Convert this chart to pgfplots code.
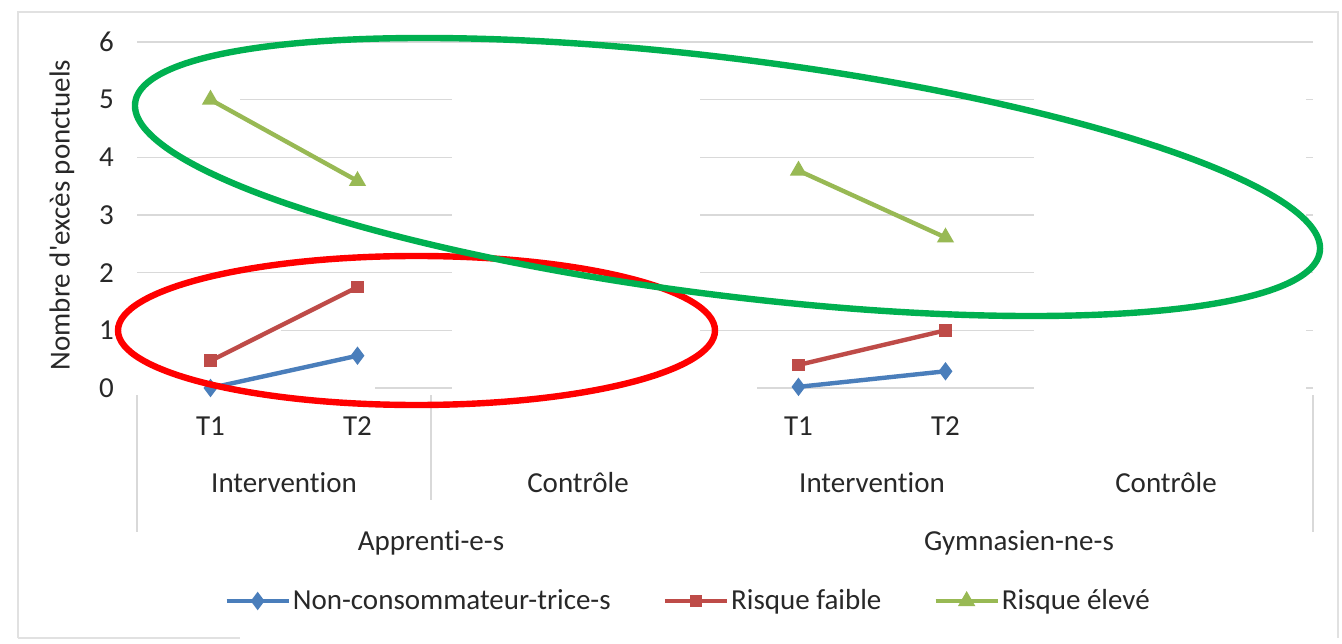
\documentclass[border=0pt]{standalone}
\usepackage{pgfplots}
\pgfplotsset{compat=1.18}
\usepackage{fontspec}
\setmainfont{Carlito}[Ligatures={NoCommon}]
\definecolor{serA}{HTML}{4A7EBB}
\definecolor{serB}{HTML}{BE4B48}
\definecolor{serC}{HTML}{98B954}
\definecolor{gridc}{RGB}{217,217,217}
\definecolor{framec}{RGB}{225,225,225}
\definecolor{txt}{RGB}{40,40,40}
\definecolor{ellG}{RGB}{0,176,80}
\definecolor{ellR}{RGB}{255,0,0}
\newcommand\fs{\fontsize{14.5}{17}\selectfont}
\begin{document}
\begin{tikzpicture}
\path[use as bounding box, fill=white] (0,0) rectangle (671pt,321.5pt);
% chart frame
\draw[framec, line width=0.8pt] (9pt,2.5pt) -- (9pt,315.5pt) -- (669pt,315.5pt) -- (669pt,2.5pt);
\draw[framec, line width=0.8pt] (9pt,2.5pt) -- (120pt,2.5pt);
\begin{axis}[
  at={(68.5pt,127.5pt)}, anchor=south west,
  scale only axis, width=588pt, height=173pt,
  xmin=0.5, xmax=8.5, ymin=0, ymax=6,
  ytick={0,1,...,6},
  xtick={1,2,5,6}, xticklabels={T1,T2,T1,T2},
  ymajorgrids, grid style={gridc, line width=0.8pt},
  axis line style={draw=none},
  major tick length=0pt,
  tick label style={font=\fs, text=txt},
  /pgf/number format/assume math mode=true,
  xticklabel style={anchor=base, yshift=-23.5pt},
  yticklabel style={anchor=east, xshift=-8pt},
  ylabel={Nombre d\textquotesingle excès ponctuels},
  ylabel style={at={(axis description cs:-0.0638,0.5)}, anchor=center, font=\fs, text=txt},
  clip=false,
  unbounded coords=jump,
  legend columns=3,
  legend style={draw=none, fill=none, at={(axis description cs:0.4686,-0.6156)}, anchor=center,
    font=\fs, text=txt, /tikz/every even column/.append style={column sep=25pt},
    nodes={inner sep=1pt}},
  legend image code/.code={\draw[mark repeat=2, mark phase=2] plot coordinates {(0pt,0pt) (15.5pt,0pt) (31pt,0pt)};},
]
% erased regions of the picture
\fill[white] (axis cs:2.64,-0.25) rectangle (axis cs:4.33,5.85);
\fill[white] (axis cs:6.6,-0.25) rectangle (axis cs:8.45,5.85);
\fill[white] (axis cs:0.45,-0.08) rectangle (axis cs:2.12,0.08);
\fill[white] (axis cs:0.45,0.92) rectangle (axis cs:1.48,1.08);
\fill[white] (axis cs:0.45,4.92) rectangle (axis cs:1.2,5.08);
\fill[white] (axis cs:4.2,-0.08) rectangle (axis cs:4.72,0.08);

\addplot[serA, line width=2.2pt, mark=diamond*, mark size=2.8pt, mark options={solid}]
  coordinates {(1,0.0) (2,0.56) (3,nan) (5,0.02) (6,0.29)};
\addlegendentry{Non-consommateur-trice-s}
\addplot[serB, line width=2.2pt, mark=square*, mark size=2.1pt, mark options={solid}]
  coordinates {(1,0.47) (2,1.75) (3,nan) (5,0.40) (6,1.00)};
\addlegendentry{Risque faible}
\addplot[serC, line width=2.2pt, mark=triangle*, mark size=2.8pt, mark options={solid}]
  coordinates {(1,5.00) (2,3.59) (3,nan) (5,3.77) (6,2.61)};
\addlegendentry{Risque élevé}

% category separators
\draw[gridc, line width=0.8pt] ([yshift=-3.5pt]axis cs:0.5,0) -- ([yshift=-72pt]axis cs:0.5,0);
\draw[gridc, line width=0.8pt] ([yshift=-3.5pt]axis cs:2.5,0) -- ([yshift=-56pt]axis cs:2.5,0);
\draw[gridc, line width=0.8pt] ([yshift=-3.5pt]axis cs:8.5,0) -- ([yshift=-72pt]axis cs:8.5,0);
% category labels
\node[anchor=base, font=\fs, text=txt] at (axis cs:1.5,0) [yshift=-52pt] {Intervention};
\node[anchor=base, font=\fs, text=txt] at (axis cs:3.5,0) [yshift=-52pt] {Contrôle};
\node[anchor=base, font=\fs, text=txt] at (axis cs:5.5,0) [yshift=-52pt] {Intervention};
\node[anchor=base, font=\fs, text=txt] at (axis cs:7.5,0) [yshift=-52pt] {Contrôle};
\node[anchor=base, font=\fs, text=txt] at (axis cs:2.5,0) [yshift=-81pt] {Apprenti-e-s};
\node[anchor=base, font=\fs, text=txt] at (axis cs:6.5,0) [yshift=-81pt] {Gymnasien-ne-s};
\end{axis}
% hand-drawn highlight ellipses
\draw[ellR, line width=3.2pt] (208.25pt,156.25pt) ellipse [x radius=149.25pt, y radius=37.25pt];
\draw[ellG, line width=3.2pt, rotate around={-7.15:(363.75pt,233pt)}] (363.75pt,233pt) ellipse [x radius=298.5pt, y radius=59.2pt];
\end{tikzpicture}
\end{document}
